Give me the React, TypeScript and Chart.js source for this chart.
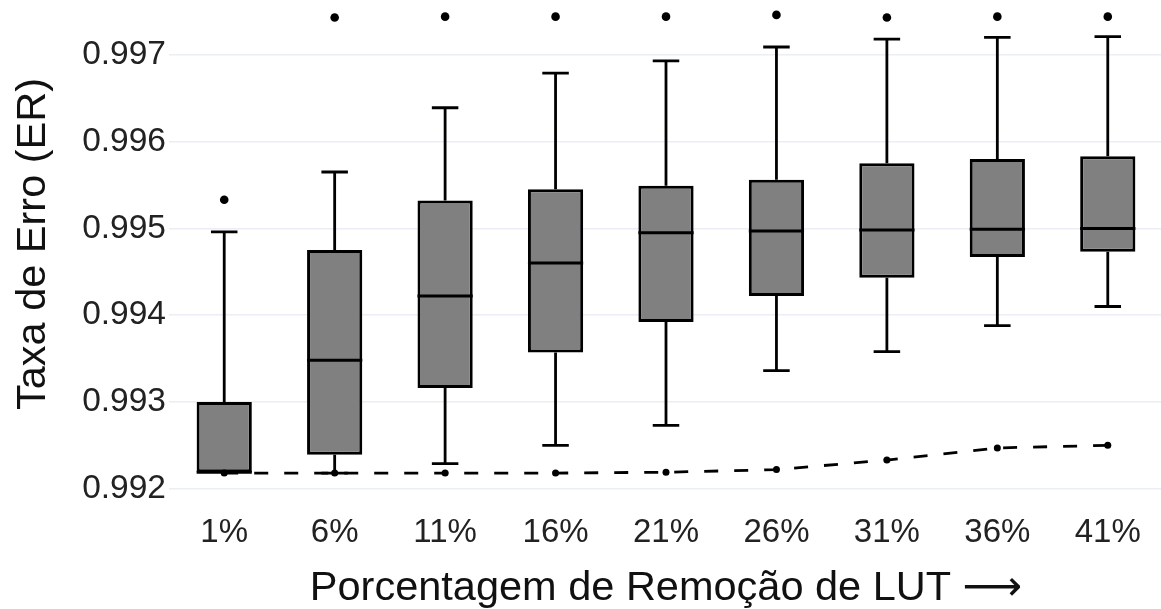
import React, { useEffect, useRef } from "react";
import { Chart, registerables } from "chart.js";

Chart.register(...registerables);

// Removal percentages on the x axis
const categories = ["1%", "6%", "11%", "16%", "21%", "26%", "31%", "36%", "41%"];

// Box-plot summaries of the error rate for each removal level
const whiskerLow = [0.99219, 0.99218, 0.99229, 0.9925, 0.99273, 0.99336, 0.99358, 0.99388, 0.9941];
const q1 = [0.99219, 0.99239, 0.99316, 0.99357, 0.99392, 0.99422, 0.99443, 0.99467, 0.99473];
const median = [0.99219, 0.99348, 0.99422, 0.9946, 0.99495, 0.99497, 0.99498, 0.99499, 0.995];
const q3 = [0.993, 0.99475, 0.99532, 0.99545, 0.99549, 0.99556, 0.99575, 0.9958, 0.99583];
const whiskerHigh = [0.99496, 0.99565, 0.99639, 0.99679, 0.99693, 0.99709, 0.99718, 0.9972, 0.99721];
const outliers = [0.99533, 0.99743, 0.99744, 0.99744, 0.99744, 0.99746, 0.99743, 0.99744, 0.99744];

// Minimum error rate per level (dashed reference line)
const minimumLine = [0.99218, 0.99218, 0.99218, 0.99218, 0.99219, 0.99222, 0.99233, 0.99247, 0.9925];

// Y axis tick values
const yTicks = [0.992, 0.993, 0.994, 0.995, 0.996, 0.997];

const Y_MIN = 0.991916;
const Y_MAX = 0.997724;

const FONT = "'Liberation Sans', Arial, 'DejaVu Sans', sans-serif";

const boxPlugin = {
  id: "boxWhiskers",
  beforeDatasetsDraw(chart: any) {
    const ctx = chart.ctx;
    const x = chart.scales.x;
    const y = chart.scales.y;
    const step = x.getPixelForValue(1) - x.getPixelForValue(0);
    const capHalf = step * 0.12;
    ctx.save();
    ctx.strokeStyle = "#000";
    ctx.lineWidth = 2.8;
    ctx.lineCap = "butt";
    categories.forEach((_, i) => {
      const cx = x.getPixelForValue(i);
      const segs: [number, number][] = [
        [q3[i], whiskerHigh[i]],
        [q1[i], whiskerLow[i]],
      ];
      segs.forEach(([from, to]) => {
        if (Math.abs(from - to) < 1e-9) return;
        const y0 = y.getPixelForValue(from);
        const y1 = y.getPixelForValue(to);
        ctx.beginPath();
        ctx.moveTo(cx, y0);
        ctx.lineTo(cx, y1);
        ctx.moveTo(cx - capHalf, y1);
        ctx.lineTo(cx + capHalf, y1);
        ctx.stroke();
      });
    });
    ctx.restore();
  },
  afterDatasetDraw(chart: any, args: any) {
    if (chart.data.datasets[args.index].label !== "boxes") return;
    const ctx = chart.ctx;
    const y = chart.scales.y;
    const meta = chart.getDatasetMeta(args.index);
    ctx.save();
    ctx.strokeStyle = "#000";
    ctx.lineWidth = 3;
    meta.data.forEach((bar: any, i: number) => {
      const py = y.getPixelForValue(median[i]);
      ctx.beginPath();
      ctx.moveTo(bar.x - bar.width / 2, py);
      ctx.lineTo(bar.x + bar.width / 2, py);
      ctx.stroke();
    });
    ctx.restore();
  },
};

export default function App() {
  const canvasRef = useRef<HTMLCanvasElement | null>(null);

  useEffect(() => {
    if (!canvasRef.current) return;
    const chart = new Chart(canvasRef.current, {
      type: "bar",
      data: {
        labels: categories,
        datasets: [
          {
            type: "line",
            label: "minimum",
            data: minimumLine,
            borderColor: "#000",
            backgroundColor: "#000",
            borderWidth: 2.8,
            borderDash: [14, 16],
            pointRadius: 3.5,
            pointBorderWidth: 0,
            pointBackgroundColor: "#000",
            tension: 0,
            order: 0,
          },
          {
            type: "line",
            label: "outliers",
            data: outliers,
            showLine: false,
            pointRadius: 4.3,
            pointBorderWidth: 0,
            pointBackgroundColor: "#000",
            order: 1,
          },
          {
            type: "bar",
            label: "boxes",
            data: q1.map((v, i) => [v, q3[i]]),
            backgroundColor: "#808080",
            borderColor: "#000",
            borderWidth: 3,
            borderSkipped: false,
            barPercentage: 0.5,
            categoryPercentage: 1,
            grouped: false,
            order: 2,
          } as any,
        ],
      },
      options: {
        responsive: false,
        animation: false,
        devicePixelRatio: 1,
        layout: { padding: 0, autoPadding: false },
        plugins: {
          legend: { display: false },
          tooltip: { enabled: false },
        },
        scales: {
          x: {
            offset: true,
            grid: { display: false, drawTicks: false },
            border: { display: false },
            ticks: {
              color: "#222",
              font: { family: FONT, size: 33 },
              padding: 17,
              maxRotation: 0,
            },
            title: {
              display: true,
              text: "Porcentagem de Remoção de LUT ⟶",
              color: "#111",
              font: { family: FONT, size: 41.5, lineHeight: 1 },
              padding: { top: 0, bottom: 0 },
            },
            afterFit: (scale: any) => {
              scale.height = 113;
              scale.paddingLeft = 0;
              scale.paddingRight = 0;
            },
          },
          y: {
            min: Y_MIN,
            max: Y_MAX,
            grid: { color: "#EBEEF4", lineWidth: 1.5, drawTicks: false },
            border: { display: false },
            ticks: {
              color: "#222",
              font: { family: FONT, size: 33.5 },
              padding: 3,
              callback: (v: any) => Number(v).toFixed(3),
            },
            afterBuildTicks: (scale: any) => {
              scale.ticks = yTicks.map((v) => ({ value: v }));
            },
            title: {
              display: true,
              text: "Taxa de Erro (ER)",
              color: "#111",
              font: { family: FONT, size: 41.5, lineHeight: 1 },
              padding: { top: 13, bottom: 0 },
            },
            afterFit: (scale: any) => {
              scale.width = 169;
              scale.paddingTop = 0;
              scale.paddingBottom = 0;
            },
          },
        },
      },
      plugins: [boxPlugin],
    });
    return () => chart.destroy();
  }, []);

  return (
    <div
      style={{
        position: "fixed",
        left: 0,
        top: -8,
        width: 1163,
        height: 617,
        background: "#fff",
      }}
    >
      <canvas ref={canvasRef} width={1163} height={617} style={{ width: 1163, height: 617 }} />
    </div>
  );
}
